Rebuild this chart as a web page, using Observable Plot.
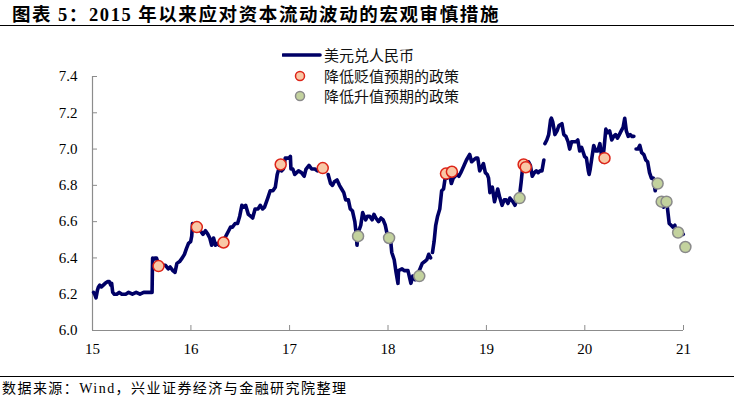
<!DOCTYPE html>
<html><head><meta charset="utf-8">
<script src="https://cdn.jsdelivr.net/npm/d3@7"></script>
<script src="https://cdn.jsdelivr.net/npm/@observablehq/plot@0.6"></script>
<style>
body{margin:0;background:#fff;}
#wrap{position:relative;width:734px;height:398px;font-family:"Noto Sans CJK SC",sans-serif;color:#000;}
#title{position:absolute;left:12px;top:0px;font-size:18.5px;font-weight:bold;line-height:27px;letter-spacing:1.6px;white-space:nowrap;}
.num{font-family:"Liberation Serif",serif;font-weight:bold;}
.ser{font-family:"Liberation Serif",serif;}
#rule1{position:absolute;left:0;top:25px;width:734px;height:0;border-top:1.5px solid #000;}
#chart{position:absolute;left:0;top:30px;}
#legend{position:absolute;left:282px;top:45px;font-size:15px;line-height:20px;color:#111;}
#legend .row{display:flex;align-items:center;height:20.5px;white-space:nowrap;}
#legend svg{display:block;}
#rule2{position:absolute;left:0;top:376px;width:734px;height:0;border-top:1.5px solid #000;}
#source{position:absolute;left:2px;top:378px;font-size:14px;line-height:18px;letter-spacing:1.45px;white-space:nowrap;}
</style></head>
<body>
<div id="wrap">
  <div id="title">图表 <span class="num">5</span>：<span class="num">2015</span> 年以来应对资本流动波动的宏观审慎措施</div>
  <div id="rule1"></div>
  <div id="chart"></div>
  <div id="legend"></div>
  <div id="rule2"></div>
  <div id="source">数据来源：<span class="ser">Wind</span>，兴业证券经济与金融研究院整理</div>
</div>
<script>
// ---- data ----
const seriesNames = ["美元兑人民币", "降低贬值预期的政策", "降低升值预期的政策"];
const xTickYears = [2015, 2016, 2017, 2018, 2019, 2020, 2021];
const yTicks = [6.0, 6.2, 6.4, 6.6, 6.8, 7.0, 7.2, 7.4];

const lineDates = [
"2015-01-05","2015-01-09","2015-01-14","2015-01-19","2015-01-23","2015-01-28","2015-02-03","2015-02-10","2015-02-17","2015-02-27",
"2015-03-04","2015-03-10","2015-03-13","2015-03-17","2015-03-23","2015-04-01","2015-04-10","2015-04-20","2015-05-04","2015-05-15",
"2015-05-29","2015-06-12","2015-06-26","2015-07-10","2015-07-24","2015-08-10","2015-08-11","2015-08-12","2015-08-14","2015-08-20",
"2015-08-26","2015-09-02","2015-09-10","2015-09-18","2015-09-28","2015-10-09","2015-10-16","2015-10-26","2015-11-03","2015-11-10",
"2015-11-20","2015-11-30","2015-12-08","2015-12-15","2015-12-23","2015-12-31",
"2016-01-04","2016-01-07","2016-01-12","2016-01-19","2016-01-27","2016-02-05","2016-02-15","2016-02-24","2016-03-04","2016-03-11",
"2016-03-18","2016-03-25","2016-04-01","2016-04-08","2016-04-15","2016-04-22","2016-04-29","2016-05-06","2016-05-13","2016-05-20",
"2016-05-27","2016-06-03","2016-06-13","2016-06-22","2016-06-30","2016-07-08","2016-07-15","2016-07-22","2016-08-01","2016-08-10",
"2016-08-17","2016-08-26","2016-09-06","2016-09-14","2016-09-23","2016-09-30","2016-10-12","2016-10-21","2016-10-31","2016-11-09",
"2016-11-16","2016-11-24","2016-12-02","2016-12-09","2016-12-16","2016-12-23","2016-12-30",
"2017-01-04","2017-01-06","2017-01-13","2017-01-20","2017-02-03","2017-02-14","2017-02-24","2017-03-03","2017-03-14","2017-03-24",
"2017-04-05","2017-04-14","2017-04-26","2017-05-05","2017-05-12","2017-05-18","2017-05-24","2017-06-02","2017-06-09","2017-06-16",
"2017-06-26","2017-07-05","2017-07-13","2017-07-21","2017-07-28","2017-08-07","2017-08-14","2017-08-22","2017-08-31","2017-09-05",
"2017-09-08","2017-09-11","2017-09-13","2017-09-15","2017-09-22","2017-09-29","2017-10-10","2017-10-17","2017-10-25","2017-11-03",
"2017-11-10","2017-11-17","2017-11-27","2017-12-06","2017-12-14","2017-12-22","2017-12-29",
"2018-01-05","2018-01-10","2018-01-15","2018-01-24","2018-01-31","2018-02-07","2018-02-09","2018-02-22","2018-03-02","2018-03-09",
"2018-03-16","2018-03-27","2018-04-03","2018-04-12","2018-04-20","2018-04-27","2018-05-08","2018-05-17","2018-05-25","2018-06-01",
"2018-06-08","2018-06-11","2018-06-15","2018-06-21","2018-06-27","2018-07-04","2018-07-12","2018-07-19","2018-07-26","2018-08-02",
"2018-08-08","2018-08-15","2018-08-24","2018-08-31","2018-09-07","2018-09-14","2018-09-21","2018-09-28","2018-10-10","2018-10-19",
"2018-10-31","2018-11-07","2018-11-15","2018-11-23","2018-11-30","2018-12-07","2018-12-14","2018-12-21","2018-12-28",
"2019-01-04","2019-01-09","2019-01-14","2019-01-23","2019-01-31","2019-02-12","2019-02-20","2019-02-28","2019-03-08","2019-03-15",
"2019-03-22","2019-03-29","2019-04-09","2019-04-17","2019-04-25","2019-04-30","2019-05-02","2019-05-06","2019-05-10","2019-05-14",
"2019-05-17","2019-05-24","2019-05-31","2019-06-06","2019-06-13","2019-06-20","2019-06-28","2019-07-05","2019-07-12","2019-07-19",
"2019-07-26","2019-08-02","2019-08-04","2019-08-06","2019-08-13","2019-08-20","2019-08-27","2019-08-30","2019-09-04","2019-09-12",
"2019-09-20","2019-09-27","2019-10-08","2019-10-15","2019-10-23","2019-10-31","2019-11-06","2019-11-13","2019-11-21","2019-11-29",
"2019-12-06","2019-12-13","2019-12-20","2019-12-31",
"2020-01-07","2020-01-14","2020-01-17","2020-01-21","2020-02-03","2020-02-10","2020-02-18","2020-02-26","2020-03-06","2020-03-12",
"2020-03-19","2020-03-25","2020-04-02","2020-04-10","2020-04-17","2020-04-24","2020-05-01","2020-05-08","2020-05-15","2020-05-22",
"2020-05-28","2020-06-03","2020-06-10","2020-06-17","2020-06-24","2020-07-01","2020-07-06","2020-07-09","2020-07-16","2020-07-23",
"2020-07-30","2020-08-07","2020-08-14","2020-08-21","2020-08-28","2020-09-04","2020-09-11","2020-09-18","2020-09-25","2020-10-01",
"2020-10-12","2020-10-19","2020-10-26","2020-11-02","2020-11-09","2020-11-16","2020-11-23","2020-11-30","2020-12-07","2020-12-14",
"2020-12-21","2020-12-31"
];
const lineValues = [
6.21,6.20,6.18,6.22,6.24,6.25,6.24,6.25,6.26,6.27,
6.27,6.25,6.26,6.21,6.20,6.20,6.21,6.20,6.20,6.21,
6.20,6.21,6.20,6.21,6.21,6.21,6.32,6.40,6.39,6.40,
6.40,6.37,6.37,6.36,6.36,6.34,6.35,6.33,6.32,6.37,
6.38,6.40,6.42,6.45,6.48,6.49,
6.52,6.59,6.57,6.58,6.58,6.55,6.53,6.55,6.53,6.51,
6.47,6.51,6.47,6.48,6.47,6.49,6.48,6.51,6.53,6.55,
6.57,6.57,6.59,6.59,6.63,6.69,6.68,6.69,6.64,6.63,
6.62,6.67,6.67,6.69,6.67,6.68,6.73,6.77,6.77,6.79,
6.86,6.90,6.88,6.89,6.95,6.95,6.95,
6.96,6.89,6.89,6.86,6.88,6.87,6.85,6.89,6.91,6.89,
6.89,6.88,6.90,6.89,6.90,null,6.86,6.81,6.80,6.82,
6.83,6.80,6.78,6.76,6.72,6.72,6.67,6.66,6.60,6.53,
6.47,6.52,null,6.55,6.58,6.65,6.61,6.63,6.63,6.61,
6.64,6.62,6.60,6.62,6.61,6.58,6.53,
6.49,6.51,6.43,6.39,6.32,6.26,6.33,6.34,6.33,6.33,
6.33,6.26,6.30,6.28,6.31,6.33,6.37,6.38,6.39,6.42,
6.40,null,6.43,6.49,6.58,6.63,6.67,6.77,6.78,6.85,
6.84,6.88,6.81,6.84,6.85,6.86,6.85,6.87,6.91,6.94,
6.97,6.93,6.94,6.95,6.95,6.88,6.90,6.92,6.87,
6.86,6.84,6.76,6.79,6.71,6.78,6.73,6.69,6.72,6.72,
6.70,6.73,6.71,6.69,6.73,6.73,null,6.77,6.82,6.88,
6.92,6.90,6.91,6.93,6.91,6.85,6.87,6.88,6.87,6.88,
6.88,6.94,null,7.03,7.05,7.08,7.16,7.17,7.15,7.08,
7.10,7.13,7.14,7.08,7.07,7.04,7.00,7.04,7.04,7.04,
7.05,6.99,7.01,6.96,
6.95,6.88,6.86,6.89,7.02,6.99,6.99,7.03,6.93,7.00,
7.11,7.09,7.10,7.05,7.07,7.08,7.06,7.08,7.10,7.12,
7.17,7.10,7.07,7.08,7.07,7.07,null,7.00,7.00,7.02,
6.98,6.97,6.94,6.93,6.87,6.84,6.84,6.77,6.82,null,
6.70,6.68,6.71,6.68,6.59,6.58,6.57,6.58,6.53,6.55,
6.54,6.53
];

const redDates = ["2015-09-03","2016-01-23","2016-05-01","2016-11-29","2017-05-04","2018-08-04","2018-08-26","2019-05-19","2019-05-27","2020-03-14"];
const redValues = [6.355, 6.57, 6.485, 6.915, 6.895, 6.865, 6.875, 6.915, 6.90, 6.95];

const greenDates = ["2017-09-12","2018-01-05","2018-04-27","2019-05-04","2020-09-27","2020-10-12","2020-10-30","2020-12-12","2021-01-08"];
const greenValues = [6.52, 6.51, 6.30, 6.73, 6.81, 6.71, 6.71, 6.54, 6.46];

// ---- build ----
const parse = d3.utcParse("%Y-%m-%d");
const lineData = lineDates.map((d, i) => ({date: parse(d), value: lineValues[i] == null ? NaN : lineValues[i]}));
const redData = redDates.map((d, i) => ({date: parse(d), value: redValues[i]}));
const greenData = greenDates.map((d, i) => ({date: parse(d), value: greenValues[i]}));
const xTicks = xTickYears.map(y => new Date(Date.UTC(y, 0, 1)));

const NAVY = "#000066";
const RED_FILL = "#f9c8a6", RED_STROKE = "#dd2418";
const GREEN_FILL = "#c3d29e", GREEN_STROKE = "#8a8a8a";
const AXIS = "#8c8c8c";

const chart = Plot.plot({
  width: 734,
  height: 346,
  marginTop: 46,
  marginBottom: 46,
  marginLeft: 92,
  marginRight: 51,
  style: {fontFamily: "'Liberation Serif', serif", fontSize: "15px", color: "#000", background: "transparent", overflow: "visible"},
  x: {type: "utc", domain: [xTicks[0], xTicks[xTicks.length - 1]]},
  y: {domain: [yTicks[0], yTicks[yTicks.length - 1]]},
  marks: [
    Plot.ruleY([yTicks[0]], {stroke: AXIS, strokeWidth: 1.2}),
    Plot.ruleX([xTicks[0]], {stroke: AXIS, strokeWidth: 1.2}),
    Plot.axisY(yTicks, {tickSize: -5, tickPadding: 20, stroke: AXIS, tickFormat: d3.format(".1f"), label: null, fill: "#000"}),
    Plot.axisX(xTicks, {tickSize: -5, tickPadding: 18, stroke: AXIS, tickFormat: d => String(d.getUTCFullYear() % 100), label: null, fill: "#000"}),
    Plot.line(lineData, {x: "date", y: "value", stroke: NAVY, strokeWidth: 3.6, strokeLinejoin: "round", strokeLinecap: "round"}),
    Plot.dot(redData, {x: "date", y: "value", r: 5.5, fill: RED_FILL, stroke: RED_STROKE, strokeWidth: 1.5}),
    Plot.dot(greenData, {x: "date", y: "value", r: 5.5, fill: GREEN_FILL, stroke: GREEN_STROKE, strokeWidth: 1.5})
  ]
});
document.getElementById("chart").appendChild(chart);

// ---- legend ----
const legend = document.getElementById("legend");
const swatches = [
  `<svg width="42" height="20"><line x1="1" y1="10" x2="38" y2="10" stroke="${NAVY}" stroke-width="3.6" stroke-linecap="round"/></svg>`,
  `<svg width="42" height="20"><circle cx="18" cy="10" r="4.5" fill="${RED_FILL}" stroke="${RED_STROKE}" stroke-width="1.5"/></svg>`,
  `<svg width="42" height="20"><circle cx="18" cy="10" r="4.5" fill="${GREEN_FILL}" stroke="${GREEN_STROKE}" stroke-width="1.5"/></svg>`
];
seriesNames.forEach((name, i) => {
  const row = document.createElement("div");
  row.className = "row";
  row.innerHTML = swatches[i] + `<span>${name}</span>`;
  legend.appendChild(row);
});
</script>
</body></html>
